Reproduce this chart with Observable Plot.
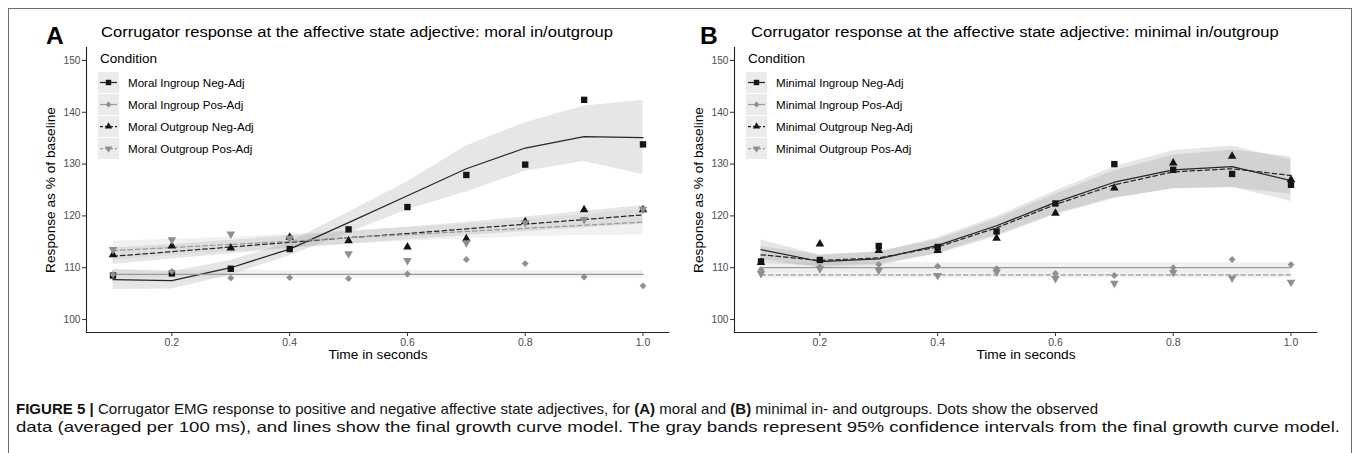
<!DOCTYPE html>
<html><head><meta charset="utf-8">
<script src="https://cdn.jsdelivr.net/npm/d3@7"></script>
<script src="https://cdn.jsdelivr.net/npm/@observablehq/plot@0.6"></script>
<style>
body{margin:0;background:#fff;font-family:"Liberation Sans",Arial,Helvetica,sans-serif;color:#000;}
#root{position:relative;width:1354px;height:453px;overflow:hidden;background:#fff;}
.frame{position:absolute;left:8px;top:8px;width:1344px;height:470px;border:1px solid #6e6e6e;box-sizing:border-box;}
.panel{position:absolute;top:0;width:679px;height:400px;}
.panel > svg{position:absolute;left:0;top:0;overflow:visible;}
.tag{position:absolute;font-weight:bold;font-size:24.5px;line-height:24.5px;white-space:nowrap;}
.title{position:absolute;font-size:15.5px;line-height:15.5px;white-space:nowrap;transform-origin:0 0;}
.legtitle{position:absolute;font-size:13.5px;line-height:13.5px;white-space:nowrap;}
.legrow{position:absolute;height:22px;display:flex;align-items:center;white-space:nowrap;font-size:11.6px;}
.legrow svg{background:#ebebeb;margin-right:9px;display:block;flex:none;}
.cap{position:absolute;left:16px;font-size:15px;line-height:15px;white-space:nowrap;transform-origin:0 0;color:#111;}
</style></head>
<body><div id="root"><div class="frame"></div></div>
<script>
// ---------- data ----------
const times = [0.1, 0.2, 0.3, 0.4, 0.5, 0.6, 0.7, 0.8, 0.9, 1.0];
const xTicks = [0.2, 0.4, 0.6, 0.8, 1.0];
const yTicks = [100, 110, 120, 130, 140, 150];

const moralNames = ["Moral Ingroup Neg-Adj", "Moral Ingroup Pos-Adj", "Moral Outgroup Neg-Adj", "Moral Outgroup Pos-Adj"];
const minimalNames = ["Minimal Ingroup Neg-Adj", "Minimal Ingroup Pos-Adj", "Minimal Outgroup Neg-Adj", "Minimal Outgroup Pos-Adj"];

// Panel A (moral) observed
const moralInNegObs  = [108.5, 108.9, 109.8, 113.6, 117.4, 121.7, 127.9, 129.9, 142.4, 133.8];
const moralInPosObs  = [108.7, 109.3, 108.0, 108.1, 107.9, 108.8, 111.6, 110.8, 108.2, 106.5];
const moralOutNegObs = [112.5, 114.2, 113.8, 115.9, 115.2, 114.0, 115.6, 118.9, 121.2, 121.2];
const moralOutPosObs = [113.5, 115.4, 116.5, 115.7, 112.7, 111.4, 114.8, 118.7, 119.3, 121.3];
// Panel A (moral) model fit and 95% CI
const moralInNegFit  = [107.7, 107.5, 110.0, 113.6, 118.7, 123.9, 129.1, 133.1, 135.3, 135.1];
const moralInNegLo   = [105.8, 105.9, 108.6, 112.3, 116.7, 121.2, 124.6, 128.6, 130.5, 128.0];
const moralInNegHi   = [109.7, 109.2, 111.4, 114.9, 120.7, 126.6, 133.5, 138.0, 141.2, 142.3];
const moralInPosFit  = [108.7, 108.7, 108.7, 108.7, 108.7, 108.7, 108.7, 108.7, 108.7, 108.7];
const moralInPosLo   = [108.0, 108.0, 108.0, 108.0, 108.0, 108.0, 108.0, 108.0, 108.0, 108.0];
const moralInPosHi   = [109.5, 109.5, 109.5, 109.5, 109.5, 109.5, 109.5, 109.5, 109.5, 109.5];
const moralOutNegFit = [112.2, 113.1, 114.0, 114.9, 115.8, 116.6, 117.5, 118.4, 119.3, 120.2];
const moralOutNegLo  = [110.6, 111.7, 112.7, 113.7, 114.6, 115.4, 116.2, 117.0, 117.7, 118.4];
const moralOutNegHi  = [113.8, 114.5, 115.3, 116.1, 117.0, 117.8, 118.8, 119.8, 120.9, 122.0];
const moralOutPosFit = [113.3, 113.9, 114.5, 115.1, 115.8, 116.4, 117.0, 117.6, 118.2, 118.8];
const moralOutPosLo  = [111.5, 112.3, 113.1, 113.8, 114.5, 115.1, 115.6, 116.0, 116.2, 116.3];
const moralOutPosHi  = [115.1, 115.5, 115.9, 116.4, 117.1, 117.7, 118.4, 119.2, 120.2, 121.3];

// Panel B (minimal) observed
const minInNegObs  = [111.2, 111.5, 114.2, 114.0, 117.0, 122.4, 130.0, 128.9, 128.1, 126.0];
const minInPosObs  = [109.6, 110.2, 110.6, 110.3, 109.8, 108.9, 108.5, 110.0, 111.6, 110.6];
const minOutNegObs = [111.0, 114.6, 113.3, 113.3, 115.7, 120.5, 125.4, 130.2, 131.5, 127.0];
const minOutPosObs = [108.9, 109.8, 109.5, 108.5, 109.2, 107.9, 107.0, 109.1, 108.0, 107.2];
// Panel B (minimal) model fit and 95% CI
const minInNegFit  = [113.5, 111.2, 111.7, 114.3, 118.1, 122.6, 126.5, 128.9, 129.5, 126.8];
const minInNegLo   = [111.6, 110.0, 110.4, 112.8, 116.3, 120.4, 123.5, 125.2, 125.5, 122.8];
const minInNegHi   = [115.4, 112.4, 113.0, 115.8, 119.9, 124.8, 129.5, 132.6, 133.5, 130.8];
const minInPosFit  = [110.0, 110.0, 110.0, 110.0, 110.0, 110.0, 110.0, 110.0, 110.0, 110.0];
const minInPosLo   = [109.2, 109.2, 109.2, 109.2, 109.2, 109.2, 109.2, 109.2, 109.2, 109.2];
const minInPosHi   = [111.0, 111.0, 111.0, 111.0, 111.0, 111.0, 111.0, 111.0, 111.0, 111.0];
const minOutNegFit = [112.5, 111.4, 111.9, 114.0, 117.7, 122.2, 126.0, 128.5, 129.1, 127.8];
const minOutNegLo  = [110.9, 110.3, 110.7, 112.6, 116.0, 120.2, 123.3, 125.3, 125.5, 124.2];
const minOutNegHi  = [114.1, 112.5, 113.1, 115.4, 119.4, 124.2, 128.7, 131.7, 132.7, 131.4];
const minOutPosFit = [108.6, 108.6, 108.6, 108.6, 108.6, 108.6, 108.6, 108.6, 108.6, 108.6];
const minOutPosLo  = [108.0, 108.0, 108.0, 108.0, 108.0, 108.0, 108.0, 108.0, 108.0, 108.0];
const minOutPosHi  = [109.3, 109.3, 109.3, 109.3, 109.3, 109.3, 109.3, 109.3, 109.3, 109.3];

const titleA = "Corrugator response at the affective state adjective: moral in/outgroup";
const titleB = "Corrugator response at the affective state adjective: minimal in/outgroup";
const yLabel = "Response as % of baseline";
const xLabel = "Time in seconds";
const legendTitle = "Condition";

// ---------- styles (per condition order: InNeg, InPos, OutNeg, OutPos) ----------
const DARK = "#262626", LIGHT = "#9a9a9a";
const styles = [
  {line: DARK,  dash: null,  pt: "#141414", symbol: "square",   rotate: 0,   r: 3.6, band: "#808080"},
  {line: LIGHT, dash: null,  pt: "#8f8f8f", symbol: "diamond2", rotate: 0,   r: 3.1, band: "#b8b8b8"},
  {line: DARK,  dash: "4.5,3", pt: "#141414", symbol: "triangle", rotate: 0,   r: 3.2, band: "#808080"},
  {line: LIGHT, dash: "4.5,3", pt: "#8f8f8f", symbol: "triangle", rotate: 180, r: 3.2, band: "#b8b8b8"}
];

const xDomain = [0.055, 1.045];
const yDomain = [97.5, 152.5];

function series(obs, fit, lo, hi) {
  return {
    obs: times.map((t, i) => ({t, v: obs[i]})),
    fit: times.map((t, i) => ({t, v: fit[i], lo: lo[i], hi: hi[i]}))
  };
}

function makePlot(groups) {
  const marks = [];
  groups.forEach((g, k) => {
    marks.push(Plot.areaY(g.fit, {x: "t", y1: "lo", y2: "hi", fill: styles[k].band, fillOpacity: 0.2, curve: "linear"}));
  });
  groups.forEach((g, k) => {
    const s = styles[k];
    marks.push(Plot.line(g.fit, {x: "t", y: "v", stroke: s.line, strokeWidth: 1.25, strokeDasharray: s.dash || undefined}));
  });
  groups.forEach((g, k) => {
    const s = styles[k];
    marks.push(Plot.dot(g.obs, {x: "t", y: "v", symbol: s.symbol, fill: s.pt, stroke: "none", r: s.r, rotate: s.rotate}));
  });
  marks.push(Plot.ruleX([xDomain[0]], {stroke: "#222", strokeWidth: 1.1}));
  marks.push(Plot.ruleY([yDomain[0]], {stroke: "#222", strokeWidth: 1.1}));
  marks.push(Plot.axisX({ticks: xTicks, tickFormat: d3.format(".1f"), tickSize: 4, tickPadding: 2, stroke: "#333", fill: "#4d4d4d", label: null, fontSize: 10.5}));
  marks.push(Plot.axisY({ticks: yTicks, tickSize: 4, tickPadding: 2, stroke: "#333", fill: "#4d4d4d", label: null, fontSize: 10.2}));
  marks.push(Plot.text([xLabel], {frameAnchor: "bottom", dy: 26, fontSize: 13.7, fill: "#000", textAnchor: "middle"}));
  marks.push(Plot.text([yLabel], {frameAnchor: "left", rotate: -90, dx: -36, fontSize: 13.7, fill: "#000", textAnchor: "middle"}));
  return Plot.plot({
    width: 679, height: 375,
    marginLeft: 86, marginRight: 10, marginTop: 47, marginBottom: 43,
    style: {fontFamily: '"Liberation Sans", Arial, sans-serif', fontSize: "10.5px", background: "transparent", overflow: "visible"},
    x: {domain: xDomain},
    y: {domain: yDomain},
    marks
  });
}

function legendSwatch(s) {
  const svg = d3.create("svg").attr("width", 21).attr("height", 21);
  svg.append("line").attr("x1", 2).attr("x2", 19).attr("y1", 10.5).attr("y2", 10.5)
    .attr("stroke", s.line).attr("stroke-width", 1.25).attr("stroke-dasharray", s.dash ? "3,2" : null);
  const sym = {square: d3.symbolSquare, diamond2: d3.symbolDiamond2, triangle: d3.symbolTriangle}[s.symbol];
  svg.append("path").attr("d", d3.symbol(sym, Math.PI * (s.r * 0.85) ** 2)())
    .attr("transform", `translate(10.5,10.5) rotate(${s.rotate})`).attr("fill", s.pt);
  return svg.node();
}

function fitX(el, w) {
  const cw = el.getBoundingClientRect().width;
  el.style.transform = `scaleX(${w / cw})`;
  return w / cw;
}

const titleEls = [];
function buildPanel(left, tag, title, names, groups, tagX, titleX) {
  const root = document.getElementById("root");
  const p = document.createElement("div");
  p.className = "panel"; p.style.left = left + "px";
  root.appendChild(p);
  p.appendChild(makePlot(groups));
  const t = document.createElement("div"); t.className = "tag"; t.textContent = tag;
  t.style.left = tagX + "px"; t.style.top = "24.3px"; p.appendChild(t);
  const ti = document.createElement("div"); ti.className = "title"; ti.textContent = title;
  ti.style.left = titleX + "px"; ti.style.top = "24.0px"; p.appendChild(ti);
  titleEls.push(ti);
  const lt = document.createElement("div"); lt.className = "legtitle"; lt.textContent = legendTitle;
  lt.style.left = "100px"; lt.style.top = "52.3px"; p.appendChild(lt);
  names.forEach((n, k) => {
    const row = document.createElement("div"); row.className = "legrow";
    row.style.left = "98px"; row.style.top = (71 + 22 * k) + "px";
    row.appendChild(legendSwatch(styles[k]));
    const sp = document.createElement("span"); sp.textContent = n; row.appendChild(sp);
    p.appendChild(row);
  });
}

buildPanel(0, "A", titleA, moralNames, [
  series(moralInNegObs, moralInNegFit, moralInNegLo, moralInNegHi),
  series(moralInPosObs, moralInPosFit, moralInPosLo, moralInPosHi),
  series(moralOutNegObs, moralOutNegFit, moralOutNegLo, moralOutNegHi),
  series(moralOutPosObs, moralOutPosFit, moralOutPosLo, moralOutPosHi)
], 46, 101);

buildPanel(648, "B", titleB, minimalNames, [
  series(minInNegObs, minInNegFit, minInNegLo, minInNegHi),
  series(minInPosObs, minInPosFit, minInPosLo, minInPosHi),
  series(minOutNegObs, minOutNegFit, minOutNegLo, minOutNegHi),
  series(minOutPosObs, minOutPosFit, minOutPosLo, minOutPosHi)
], 52, 103);

// titles share one horizontal scale, fitted so title A spans its measured width
const tScale = fitX(titleEls[0], 512);
titleEls[1].style.transform = `scaleX(${tScale})`;

// ---------- caption ----------
const capLines = [
  ['<b>FIGURE 5</b> <b>|</b> Corrugator EMG response to positive and negative affective state adjectives, for <b>(A)</b> moral and <b>(B)</b> minimal in- and outgroups. Dots show the observed', 1082, 400.5],
  ['data (averaged per 100 ms), and lines show the final growth curve model. The gray bands represent 95% confidence intervals from the final growth curve model.', 1324, 419.0]
];
capLines.forEach(([html, w, top]) => {
  const d = document.createElement("div"); d.className = "cap"; d.innerHTML = html; d.style.top = top + "px";
  document.getElementById("root").appendChild(d);
  fitX(d, w);
});
</script></body></html>
